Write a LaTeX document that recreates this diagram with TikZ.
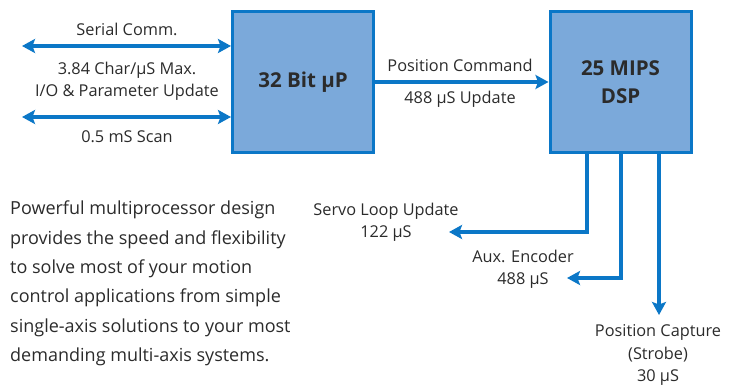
\documentclass[tikz,border=0pt]{standalone}
\usepackage{fontspec}
\setmainfont{Open Sans}
\usepackage{tikz}
\usetikzlibrary{
    arrows.meta,
    calc,
    positioning
}
\definecolor{geblue}{HTML}{0B77C7}
\definecolor{gefill}{HTML}{7BA9DA}
\definecolor{getext}{HTML}{2B2B2B}
\tikzset{
    procbox/.style={draw=geblue, fill=gefill, line width=3pt,
        minimum width=141pt, minimum height=141pt, inner sep=0pt,
        align=center, font=\fontsize{20.5}{28}\selectfont\bfseries, text=getext},
    lbl/.style={inner sep=0pt, align=center, font=\fontsize{16.3}{22.5}\selectfont, text=getext},
    link/.style={draw=geblue, line width=4pt,
        >={Stealth[length=13pt, width=14pt, inset=2.5pt]}}
}

\begin{document}
\begin{tikzpicture}[x=1pt, y=-1pt]
    \useasboundingbox (0,0) rectangle (738,385);
    \node[procbox] (cpu) at (303, 82) {32 Bit μP};
    \node[procbox] (dsp) at (620.5, 82) {25 MIPS\\DSP};

    % host side
    \coordinate (serial) at (22, 46);
    \coordinate (scan) at (22, 117);
    \node[lbl] (serialtxt) at (127, 29) {Serial Comm.};
    \node[lbl] (iotxt) at (127, 81.5) {3.84 Char/μS Max.\\I/O \& Parameter Update};
    \node[lbl] (scantxt) at (127, 137) {0.5 mS Scan};
    \draw[link, <->] (serial) -- (cpu.west |- serial);
    \draw[link, <->] (scan) -- (cpu.west |- scan);

    % position command
    \node[lbl] (cmdtxt) at (460, 65) {Position Command};
    \node[lbl] (updtxt) at (460, 99) {488 μS Update};
    \draw[link, ->] (cpu) -- (dsp);

    % dsp outputs
    \coordinate (servo) at (449, 232);
    \coordinate (aux) at (567, 278);
    \coordinate (capture) at (659, 315);
    \node[lbl] (servotxt) at (386, 222.5) {Servo Loop Update\\122 μS};
    \node[lbl] (auxtxt) at (523, 269.5) {Aux. Encoder\\488 μS};
    \node[lbl] (capturetxt) at (658, 355) {Position Capture\\(Strobe)\\30 μS};
    \draw[link, ->] ([xshift=-33.5pt]dsp.south) |- (servo);
    \draw[link, ->] (dsp.south) |- (aux);
    \draw[link, ->] ([xshift=38.5pt]dsp.south) -- (capture);

    \node[lbl, anchor=west, align=left,
        font=\fontsize{18}{29.4}\selectfont] (blurb) at (10, 283.5)
        {Powerful multiprocessor design\\
         provides the speed and flexibility\\
         to solve most of your motion\\
         control applications from simple\\
         single-axis solutions to your most\\
         demanding multi-axis systems.};
\end{tikzpicture}
\end{document}
